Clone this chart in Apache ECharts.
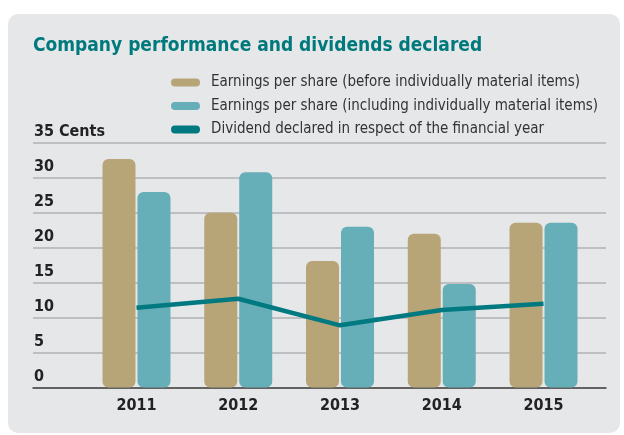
<!DOCTYPE html>
<html>
<head>
<meta charset="utf-8">
<script src="https://cdn.jsdelivr.net/npm/echarts@6/dist/echarts.min.js"></script>
<style>
  html, body { margin: 0; padding: 0; background: #ffffff; }
  #chart { width: 624px; height: 435px; }
</style>
</head>
<body>
<div id="chart"></div>
<script>
const years = ['2011', '2012', '2013', '2014', '2015'];
const epsBefore = [32.7, 25.0, 18.1, 22.0, 23.6];
const epsIncluding = [28.0, 30.8, 23.0, 14.8, 23.6];
const dividend = [11.4, 12.7, 8.9, 11.1, 12.0];
const yTicks = [0, 5, 10, 15, 20, 25, 30, 35];

const seriesNames = [
  'Earnings per share (before individually material items)',
  'Earnings per share (including individually material items)',
  'Dividend declared in respect of the financial year'
];
const color = ['#b7a577', '#66afb8', '#007a80'];
const font = "'DejaVu Sans Condensed', 'Liberation Sans Narrow', 'Open Sans', sans-serif";
const pill = 'path://M4,0 H25 A4,4 0 0 1 25,8 H4 A4,4 0 0 1 4,0 Z';

const chart = echarts.init(document.getElementById('chart'), null, { renderer: 'canvas' });

const option = {
  animation: false,
  backgroundColor: '#ffffff',
  color,
  textStyle: { fontFamily: font },
  graphic: [{
    type: 'rect',
    z: -10,
    silent: true,
    shape: { x: 8, y: 14, width: 612, height: 419, r: 10 },
    style: { fill: '#e6e7e9' }
  }],
  title: {
    text: 'Company performance and dividends declared',
    left: 33,
    top: 37,
    padding: 0,
    textStyle: { color: '#00797d', fontSize: 19, fontWeight: 'bold', fontFamily: font }
  },
  legend: {
    orient: 'vertical',
    left: 171,
    top: 75,
    padding: 0,
    itemWidth: 29,
    itemHeight: 8,
    itemGap: 8.5,
    textStyle: { color: '#333333', fontSize: 15, fontFamily: font, padding: [0, 0, 0, 6] },
    data: seriesNames.map(name => ({ name, icon: pill }))
  },
  grid: [
    { left: 33, right: 18, top: 143, bottom: 47.5 },
    { left: 85.6, right: 29.6, top: 143, bottom: 47.5 }
  ],
  xAxis: [{
    gridIndex: 0,
    type: 'category',
    data: years,
    axisLine: { lineStyle: { color: '#444444', width: 1.5 } },
    axisTick: { show: false },
    axisLabel: { show: false }
  }, {
    gridIndex: 1,
    type: 'category',
    data: years,
    axisLine: { show: false },
    axisTick: { show: false },
    axisLabel: { color: '#222222', fontSize: 16, fontWeight: 'bold', margin: 10, fontFamily: font }
  }],
  yAxis: [{
    gridIndex: 0,
    type: 'value',
    min: yTicks[0],
    max: yTicks[yTicks.length - 1],
    interval: 5,
    axisLine: { show: false },
    axisTick: { show: false },
    splitLine: { lineStyle: { color: '#b1b2b4', width: 1.5 } },
    axisLabel: {
      inside: true,
      margin: 1,
      align: 'left',
      verticalAlign: 'bottom',
      padding: [0, 0, 3, 0],
      color: '#222222',
      fontSize: 16,
      fontWeight: 'bold',
      fontFamily: font,
      formatter: v => (v === 35 ? v + ' Cents' : String(v))
    }
  }, {
    gridIndex: 1,
    type: 'value',
    min: 0,
    max: 35,
    interval: 5,
    show: false,
    splitLine: { show: false }
  }],
  series: [{
    name: seriesNames[0],
    type: 'bar',
    xAxisIndex: 1,
    yAxisIndex: 1,
    barWidth: 33,
    barGap: '6%',
    itemStyle: { color: color[0], borderRadius: 6 },
    data: epsBefore
  }, {
    name: seriesNames[1],
    type: 'bar',
    xAxisIndex: 1,
    yAxisIndex: 1,
    barWidth: 33,
    barGap: '6%',
    itemStyle: { color: color[1], borderRadius: 6 },
    data: epsIncluding
  }, {
    name: seriesNames[2],
    type: 'line',
    xAxisIndex: 1,
    yAxisIndex: 1,
    showSymbol: false,
    symbol: 'none',
    z: 5,
    lineStyle: { color: color[2], width: 4.5 },
    itemStyle: { color: color[2] },
    data: dividend
  }]
};

chart.setOption(option);
</script>
</body>
</html>
